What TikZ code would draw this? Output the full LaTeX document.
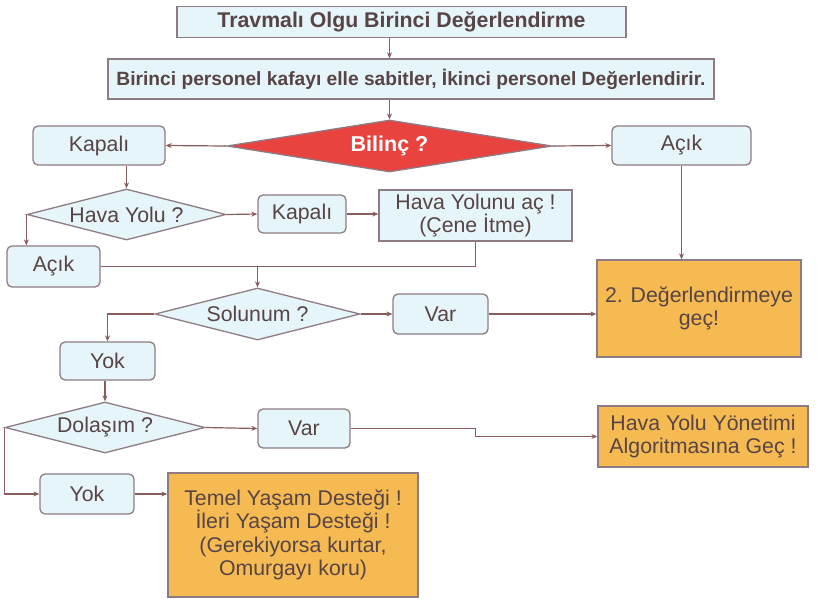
\documentclass[tikz,border=0pt]{standalone}
\usepackage{fontspec}
\setmainfont{Liberation Sans}
\usetikzlibrary{shapes.geometric,arrows.meta}
\definecolor{bluefill}{HTML}{E6F5F9}
\definecolor{edgecol}{HTML}{8E7C84}
\definecolor{linecol}{HTML}{8A5C5E}
\definecolor{txtcol}{HTML}{574446}
\definecolor{orangefill}{HTML}{F6BA52}
\definecolor{redfill}{HTML}{E9433F}
\tikzset{
  base/.style={draw=edgecol, line width=1.3pt, text=txtcol, inner sep=0pt, align=center,
    font=\fontsize{21.3}{23.5}\selectfont},
  bluebox/.style={base, rectangle, fill=bluefill},
  roundbox/.style={base, rectangle, rounded corners=5pt, fill=bluefill},
  orangebox/.style={base, rectangle, fill=orangefill},
  decision/.style={base, diamond, aspect=4, fill=bluefill},
  conn/.style={draw=linecol, line width=1.2pt},
  arr/.style={conn, -{Stealth[length=6pt,width=5pt]}},
}
\begin{document}
\begin{tikzpicture}[x=1pt,y=-1pt]
\useasboundingbox (0,0) rectangle (835,598);
\node[bluebox, minimum width=449, minimum height=31, font=\fontsize{21.3}{24}\selectfont\bfseries] (title) at (401.5,22) {Travmalı Olgu Birinci Değerlendirme};
\node[bluebox, minimum width=606, minimum height=40, font=\fontsize{19.2}{22}\selectfont\bfseries] (perso) at (411,79) {Birinci personel kafayı elle sabitler, İkinci personel Değerlendirir.};
\node[decision, fill=redfill, draw=edgecol, text=white, font=\fontsize{21.5}{24}\selectfont\bfseries, minimum width=325, minimum height=52] (bilinc) at (389.5,146) {Bilinç ?};
\node[roundbox, minimum width=132, minimum height=39] (kapali1) at (99,145.5) {Kapalı};
\node[roundbox, minimum width=139, minimum height=39] (acik1) at (681.5,145.5) {Açık};
\node[decision, minimum width=199, minimum height=51] (havayolu) at (126.5,214.5) {Hava Yolu ?};
\node[roundbox, minimum width=88, minimum height=38] (kapali2) at (302,214) {Kapalı};
\node[bluebox, minimum width=193, minimum height=51] (acbox) at (475.5,215.5) {Hava Yolunu aç !\\(Çene İtme)};
\node[roundbox, minimum width=93, minimum height=41] (acik2) at (53.5,266.5) {Açık};
\node[decision, minimum width=205, minimum height=52] (solunum) at (257.5,314) {Solunum ?};
\node[roundbox, minimum width=95, minimum height=40] (var1) at (440.5,314) {Var};
\node[orangebox, minimum width=204, minimum height=97] (deger2) at (699,308.5) {2. Değerlendirmeye\\geç!};
\node[roundbox, minimum width=95, minimum height=38] (yok1) at (107.5,361) {Yok};
\node[decision, minimum width=200, minimum height=51] (dolasim) at (105,427.5) {Dolaşım ?};
\node[roundbox, minimum width=92, minimum height=39] (var2) at (304,428.5) {Var};
\node[orangebox, minimum width=210, minimum height=61] (hyy) at (703,436.5) {Hava Yolu Yönetimi\\Algoritmasına Geç !};
\node[roundbox, minimum width=94, minimum height=40] (yok2) at (87,494) {Yok};
\node[orangebox, minimum width=250, minimum height=124] (temel) at (293,535) {Temel Yaşam Desteği !\\İleri Yaşam Desteği !\\(Gerekiyorsa kurtar,\\Omurgayı koru)};
% connectors
\draw[arr] (title.south -| bilinc.north) -- (perso.north -| bilinc.north);
\draw[arr] (perso.south -| bilinc.north) -- (bilinc.north);
\draw[arr] (bilinc.west) -- (kapali1.east);
\draw[arr] (bilinc.east) -- (acik1.west);
\draw[arr] (kapali1.south -| havayolu.north) -- (havayolu.north);
\draw[arr] (havayolu.east) -- (kapali2.west);
\draw[arr] (kapali2.east) -- (kapali2.east -| acbox.west);
\draw[arr] (havayolu.west) -- (havayolu.west |- acik2.north);
\draw[conn] (acik2.east) -| (acbox.south);
\draw[arr] (solunum.north |- acik2.east) -- (solunum.north);
\draw[arr] (solunum.east) -- (var1.west);
\draw[arr] (var1.east) -- (var1.east -| deger2.west);
\draw[arr] (acik1.south) -- (acik1.south |- deger2.north);
\draw[arr] (solunum.west) -| (yok1.north);
\draw[arr] (dolasim.north |- yok1.south) -- (dolasim.north);
\draw[arr] (dolasim.east) -- (var2.west);
\draw[arr] (var2.east) -- (acbox.south |- var2.east) -- (acbox.south |- hyy.west) -- (hyy.west);
\draw[arr] (dolasim.west) |- (yok2.west);
\draw[arr] (yok2.east) -- (yok2.east -| temel.west);
\end{tikzpicture}
\end{document}
